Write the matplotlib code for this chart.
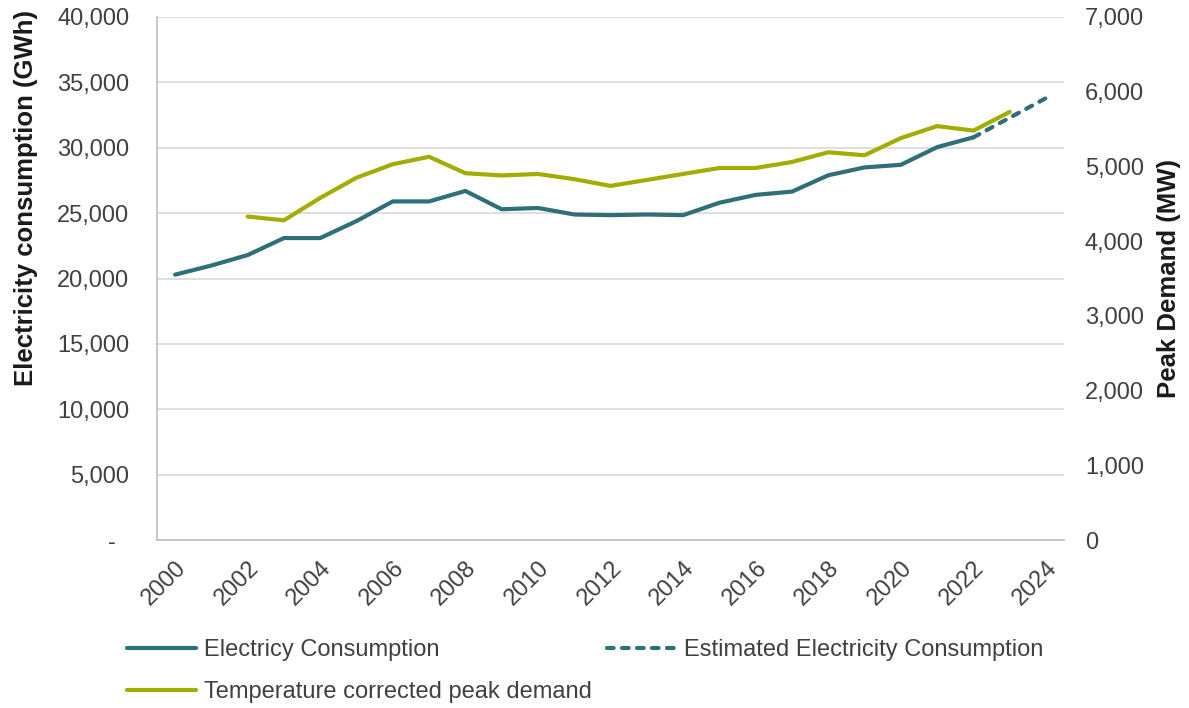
import matplotlib.pyplot as plt
from matplotlib.ticker import FuncFormatter

years = list(range(2000, 2023))
consumption = [20300, 21000, 21800, 23100, 23100, 24400, 25900, 25900, 26700,
               25300, 25400, 24900, 24850, 24900, 24850, 25800, 26400, 26650,
               27900, 28500, 28700, 30050, 30800]

est_years = [2022, 2023, 2024]
est_consumption = [30800, 32300, 33800]

peak_years = list(range(2002, 2024))
peak_demand = [4330, 4280, 4580, 4850, 5030, 5130, 4910, 4880, 4900, 4830,
               4740, 4820, 4900, 4980, 4980, 5060, 5190, 5150, 5380, 5540,
               5480, 5730]

TEAL = "#2E6F78"
OLIVE = "#A2AD00"
GREY_TEXT = "#404040"

plt.rcParams["font.family"] = ["Liberation Sans", "DejaVu Sans"]

fig = plt.figure(figsize=(11.89, 7.08), dpi=100)
ax = fig.add_axes([0.132, 0.237, 0.763, 0.739])
ax2 = ax.twinx()

l1, = ax.plot(years, consumption, color=TEAL, lw=3, solid_capstyle="round",
              label="Electricy Consumption")
l2, = ax.plot(est_years, est_consumption, color=TEAL, lw=3, ls=(0, (1.6, 2.0)),
              dash_capstyle="round", label="Estimated Electricity Consumption")
l3, = ax2.plot(peak_years, peak_demand, color=OLIVE, lw=3, solid_capstyle="round",
               label="Temperature corrected peak demand")

ax.set_xlim(1999.5, 2024.5)
ax.set_ylim(0, 40000)
ax2.set_ylim(0, 7000)
ax.set_yticks(range(0, 40001, 5000))
ax2.set_yticks(range(0, 7001, 1000))
# accounting-style zero: dash with trailing padding
ax.yaxis.set_major_formatter(FuncFormatter(lambda v, p: "-  " if v == 0 else f"{v:,.0f}"))
ax2.yaxis.set_major_formatter(FuncFormatter(lambda v, p: f"{v:,.0f}"))

ax.set_xticks(range(2000, 2025, 2))
ax.set_xticklabels([str(y) for y in range(2000, 2025, 2)], rotation=45,
                   ha="right", rotation_mode="anchor")

ax.grid(axis="y", color="#D9D9D9", lw=1.2)
ax.set_axisbelow(True)
for a in (ax, ax2):
    a.spines["top"].set_visible(False)
    a.spines["right"].set_visible(False)
    a.spines["left"].set_visible(False)
    a.tick_params(length=0, labelsize=17, colors=GREY_TEXT)
ax.spines["left"].set_visible(True)
ax.spines["left"].set_color("#BFBFBF")
ax.spines["bottom"].set_color("#BFBFBF")
ax.spines["bottom"].set_linewidth(1.2)
ax.spines["left"].set_linewidth(1.2)
ax.tick_params(axis="y", pad=20)
ax.tick_params(axis="x", pad=12)
ax2.tick_params(axis="y", pad=15)
ax2.spines["bottom"].set_visible(False)

ax.set_ylabel("Electricity consumption (GWh)", fontsize=18.5, fontweight="bold",
              color="#1A1A1A")
ax.yaxis.set_label_coords(-0.131, 0.654)
ax2.set_ylabel("Peak Demand (MW)", fontsize=18.5, fontweight="bold",
               color="#1A1A1A", labelpad=9)

fig.legend([l1, l3, l2], [l1.get_label(), l3.get_label(), l2.get_label()],
           loc="upper left", bbox_to_anchor=(0.107, 0.097), ncol=2, frameon=False,
           fontsize=17, handlelength=2.9, handletextpad=0.35, columnspacing=0.65,
           labelspacing=0.85, borderpad=0, borderaxespad=0, labelcolor=GREY_TEXT)

fig.savefig("out.png", dpi=100)
